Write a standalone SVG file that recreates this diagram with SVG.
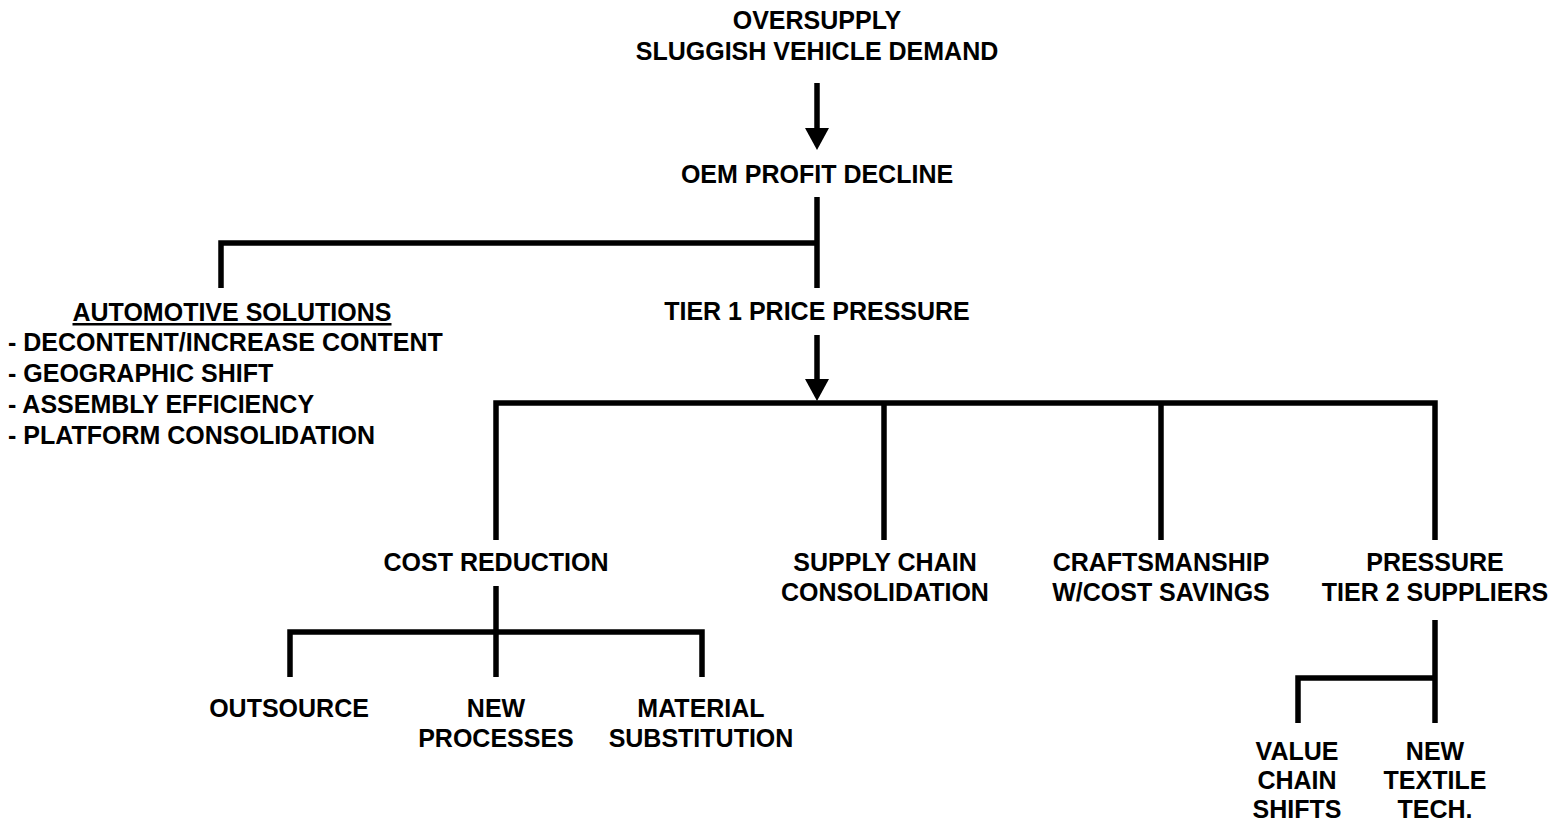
<svg xmlns="http://www.w3.org/2000/svg" width="1557" height="822" viewBox="0 0 1557 822">
<style>
text{font-family:"Liberation Sans",Arial,sans-serif;font-weight:bold;font-size:25px;fill:#000}
.c{text-anchor:middle}
.l{stroke:#000;stroke-width:5.5;fill:none;stroke-linecap:butt;stroke-linejoin:miter}
.h{fill:#000}
</style>
<rect width="1557" height="822" fill="#fff"/>
<g id="connectors">
<line class="l" x1="817" y1="83" x2="817" y2="130"/>
<polygon class="h" points="805,128 829,128 817,150"/>
<line class="l" x1="817" y1="197" x2="817" y2="288"/>
<polyline class="l" points="221,288 221,243 817,243"/>
<line class="l" x1="817" y1="335" x2="817" y2="381"/>
<polygon class="h" points="805,379 829,379 817,401"/>
<polyline class="l" points="496,540 496,403 1435,403 1435,540"/>
<line class="l" x1="884" y1="403" x2="884" y2="540"/>
<line class="l" x1="1161" y1="403" x2="1161" y2="540"/>
<line class="l" x1="496" y1="586" x2="496" y2="677"/>
<polyline class="l" points="290,677 290,632 702,632 702,677"/>
<line class="l" x1="1435" y1="620" x2="1435" y2="723"/>
<polyline class="l" points="1298,723 1298,678 1435,678"/>
</g>
<g id="oversupply"><text class="c" x="817" y="29">OVERSUPPLY</text><text class="c" x="817" y="60">SLUGGISH VEHICLE DEMAND</text></g>
<g id="oem"><text class="c" x="817" y="183">OEM PROFIT DECLINE</text></g>
<g id="automotive">
<text class="c" x="232" y="321" text-decoration="underline">AUTOMOTIVE SOLUTIONS</text>
<text x="8" y="351">- DECONTENT/INCREASE CONTENT</text>
<text x="8" y="382">- GEOGRAPHIC SHIFT</text>
<text x="8" y="413">- ASSEMBLY EFFICIENCY</text>
<text x="8" y="444">- PLATFORM CONSOLIDATION</text>
</g>
<g id="tier1"><text class="c" x="817" y="320">TIER 1 PRICE PRESSURE</text></g>
<g id="cost"><text class="c" x="496" y="571">COST REDUCTION</text></g>
<g id="supply"><text class="c" x="885" y="571">SUPPLY CHAIN</text><text class="c" x="885" y="601">CONSOLIDATION</text></g>
<g id="craft"><text class="c" x="1161" y="571">CRAFTSMANSHIP</text><text class="c" x="1161" y="601">W/COST SAVINGS</text></g>
<g id="pressure"><text class="c" x="1435" y="571">PRESSURE</text><text class="c" x="1435" y="601">TIER 2 SUPPLIERS</text></g>
<g id="outsource"><text class="c" x="289" y="717">OUTSOURCE</text></g>
<g id="newproc"><text class="c" x="496" y="717">NEW</text><text class="c" x="496" y="747">PROCESSES</text></g>
<g id="material"><text class="c" x="701" y="717">MATERIAL</text><text class="c" x="701" y="747">SUBSTITUTION</text></g>
<g id="value"><text class="c" x="1297" y="760">VALUE</text><text class="c" x="1297" y="789">CHAIN</text><text class="c" x="1297" y="818">SHIFTS</text></g>
<g id="textile"><text class="c" x="1435" y="760">NEW</text><text class="c" x="1435" y="789">TEXTILE</text><text class="c" x="1435" y="818">TECH.</text></g>
</svg>
